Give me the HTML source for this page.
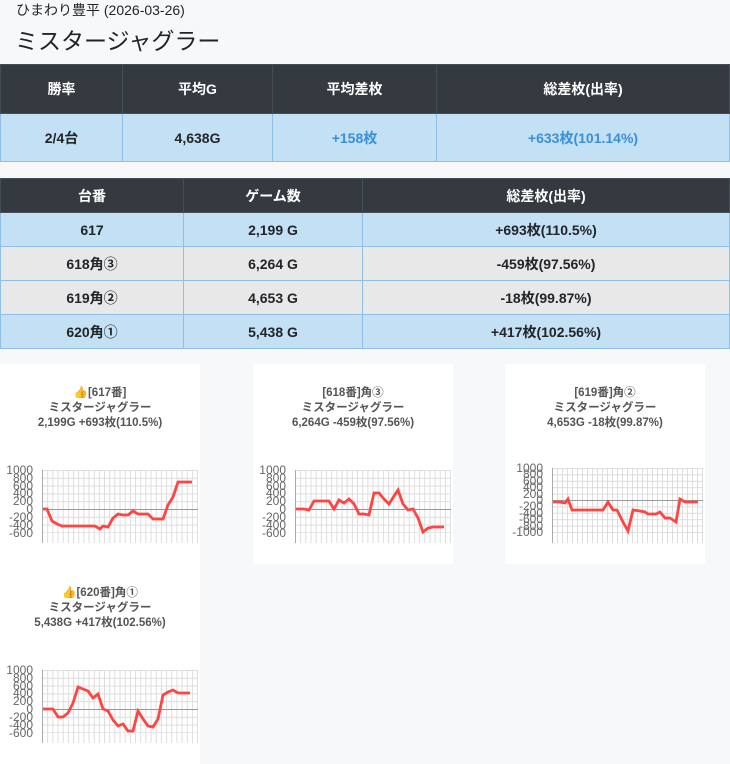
<!DOCTYPE html>
<html><head><meta charset="utf-8"><style>
body{margin:0;width:730px;height:764px;background:#f7f8fa;font-family:"Liberation Sans","Noto Sans CJK JP",sans-serif;position:relative;overflow:hidden;color:#212529}
.a{position:absolute}
table{border-collapse:collapse;position:absolute;left:0;width:730px;font-weight:bold;font-size:14px;table-layout:fixed}
td,th{text-align:center;border:1px solid #8fbfe6;padding:0}
th{background:#343a40;color:#fff;border-color:#454d55}
.b{background:#c4e0f5}.g{background:#e8e8e8;border-color:#dee2e6}
.card{position:absolute;width:200px;height:200px;background:#fff}
.t{position:absolute;left:0;width:200px;top:22px;text-align:center;font-size:11.5px;font-weight:bold;color:#555;line-height:15px}
svg text{font-family:"Liberation Sans",sans-serif;font-size:12px;fill:#666}
</style></head><body>
<div class="a" style="left:16px;top:0;font-size:14px">ひまわり豊平 (2026-03-26)</div>
<div class="a" style="left:15px;top:22px;font-size:23px">ミスタージャグラー</div>
<table style="top:64px">
<tr style="height:49px"><th style="width:121px">勝率</th><th style="width:149px">平均G</th><th style="width:163px">平均差枚</th><th>総差枚(出率)</th></tr>
<tr style="height:48px" class="b"><td>2/4台</td><td>4,638G</td><td style="color:#3a8fd9">+158枚</td><td style="color:#3a8fd9">+633枚(101.14%)</td></tr>
</table>
<table style="top:178px">
<tr style="height:34px"><th style="width:182px">台番</th><th style="width:178px">ゲーム数</th><th>総差枚(出率)</th></tr>
<tr style="height:34px" class="b"><td>617</td><td>2,199 G</td><td>+693枚(110.5%)</td></tr>
<tr style="height:34px" class="g"><td>618角③</td><td>6,264 G</td><td>-459枚(97.56%)</td></tr>
<tr style="height:34px" class="g"><td>619角②</td><td>4,653 G</td><td>-18枚(99.87%)</td></tr>
<tr style="height:34px" class="b"><td>620角①</td><td>5,438 G</td><td>+417枚(102.56%)</td></tr>
</table>

<div class="card" style="left:0;top:364px"><div class="t">👍[617番]<br>ミスタージャグラー<br>2,199G +693枚(110.5%)</div></div>
<div class="card" style="left:253px;top:364px"><div class="t">[618番]角③<br>ミスタージャグラー<br>6,264G -459枚(97.56%)</div></div>
<div class="card" style="left:505px;top:364px"><div class="t">[619番]角②<br>ミスタージャグラー<br>4,653G -18枚(99.87%)</div></div>
<div class="card" style="left:0;top:564px"><div class="t">👍[620番]角①<br>ミスタージャグラー<br>5,438G +417枚(102.56%)</div></div>

<svg class="a" style="left:0;top:0" width="730" height="764">
<defs>
<pattern id="v" x="42" y="0" width="5.17" height="10" patternUnits="userSpaceOnUse"><line x1="0.5" y1="0" x2="0.5" y2="10" stroke="#ddd"/></pattern>
<pattern id="h1" x="0" y="470" width="10" height="7.8" patternUnits="userSpaceOnUse"><line x1="0" y1="0.5" x2="10" y2="0.5" stroke="#ddd"/></pattern>
<pattern id="h3" x="0" y="468" width="10" height="6.4" patternUnits="userSpaceOnUse"><line x1="0" y1="0.5" x2="10" y2="0.5" stroke="#ddd"/></pattern>
<pattern id="h4" x="0" y="670" width="10" height="7.8" patternUnits="userSpaceOnUse"><line x1="0" y1="0.5" x2="10" y2="0.5" stroke="#ddd"/></pattern>
<pattern id="v2" x="295" y="0" width="5.17" height="10" patternUnits="userSpaceOnUse"><line x1="0.5" y1="0" x2="0.5" y2="10" stroke="#ddd"/></pattern>
<pattern id="v3" x="552" y="0" width="5.0" height="10" patternUnits="userSpaceOnUse"><line x1="0.5" y1="0" x2="0.5" y2="10" stroke="#ddd"/></pattern>
</defs>
<rect x="42" y="470" width="156" height="73" fill="url(#v)"/><rect x="42" y="470" width="156" height="63" fill="url(#h1)"/>
<line x1="42.5" y1="470" x2="42.5" y2="543" stroke="#aaa"/><line x1="42" y1="509.5" x2="198" y2="509.5" stroke="#999"/>
<g text-anchor="end"><text x="33" y="474">1000</text><text x="33" y="482">800</text><text x="33" y="490">600</text><text x="33" y="497">400</text><text x="33" y="505">200</text><text x="33" y="513">0</text><text x="33" y="521">-200</text><text x="33" y="529">-400</text><text x="33" y="537">-600</text></g>
<polyline fill="none" stroke="#ff4444" stroke-width="2.8" points="43,509 47,509 52,521 57,524 62,526 95,526 100,529 103,526 108,527 113,518 118,514 123,515 128,515 133,511 138,514 148,514 153,519 163,519 168,505 173,497 178,482 192,482"/>
<rect x="295" y="470" width="156" height="73" fill="url(#v2)"/><rect x="295" y="470" width="156" height="63" fill="url(#h1)"/>
<line x1="295.5" y1="470" x2="295.5" y2="543" stroke="#aaa"/><line x1="295" y1="509.5" x2="451" y2="509.5" stroke="#999"/>
<g text-anchor="end"><text x="286" y="474">1000</text><text x="286" y="482">800</text><text x="286" y="490">600</text><text x="286" y="497">400</text><text x="286" y="505">200</text><text x="286" y="513">0</text><text x="286" y="521">-200</text><text x="286" y="529">-400</text><text x="286" y="537">-600</text></g>
<polyline fill="none" stroke="#ff4444" stroke-width="2.8" points="296,509 304,509 309,510 314,501 329,501 334,509 339,500 344,503 349,499 354,504 359,514 364,514 369,515 374,493 379,493 384,499 389,504 394,496 398,490 403,504 408,510 413,509 418,518 423,532 428,528 433,527 444,527"/>
<rect x="552" y="468" width="151" height="75" fill="url(#v3)"/><rect x="552" y="468" width="151" height="65" fill="url(#h3)"/>
<line x1="552.5" y1="468" x2="552.5" y2="543" stroke="#aaa"/><line x1="552" y1="500.5" x2="703" y2="500.5" stroke="#999"/>
<g text-anchor="end"><text x="543" y="472">1000</text><text x="543" y="478">800</text><text x="543" y="485">600</text><text x="543" y="491">400</text><text x="543" y="498">200</text><text x="543" y="504">0</text><text x="543" y="510">-200</text><text x="543" y="517">-400</text><text x="543" y="523">-600</text><text x="543" y="530">-800</text><text x="543" y="536">-1000</text></g>
<polyline fill="none" stroke="#ff4444" stroke-width="2.8" points="553,502 560,502 565,503 568,499 572,510 603,510 608,502 613,510 617,510 623,522 628,531 633,510 640,511 645,512 648,514 656,514 660,512 665,518 670,518 676,522 680,499 685,502 698,502"/>
<rect x="42" y="670" width="156" height="73" fill="url(#v)"/><rect x="42" y="670" width="156" height="63" fill="url(#h4)"/>
<line x1="42.5" y1="670" x2="42.5" y2="743" stroke="#aaa"/><line x1="42" y1="709.5" x2="198" y2="709.5" stroke="#999"/>
<g text-anchor="end"><text x="33" y="674">1000</text><text x="33" y="682">800</text><text x="33" y="690">600</text><text x="33" y="697">400</text><text x="33" y="705">200</text><text x="33" y="713">0</text><text x="33" y="721">-200</text><text x="33" y="729">-400</text><text x="33" y="737">-600</text></g>
<polyline fill="none" stroke="#ff4444" stroke-width="2.8" points="43,709 53,709 58,717 63,717 68,713 73,703 78,687 83,689 88,691 93,698 98,694 103,709 108,711 113,720 118,726 123,724 128,731 133,731 138,711 143,719 148,726 153,727 158,719 163,695 168,692 173,690 178,693 190,693"/>
</svg>
</body></html>
